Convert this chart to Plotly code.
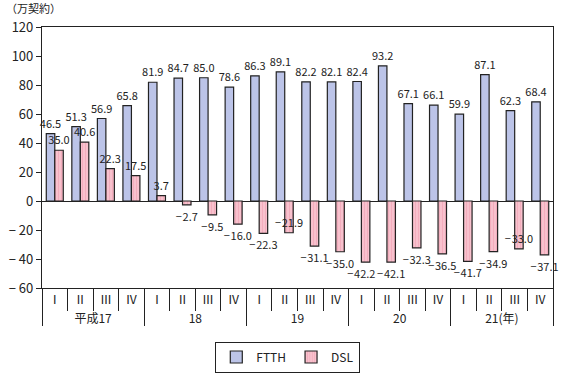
import plotly.graph_objects as go

years = ["平成17", "18", "19", "20", "21(年)"]
quarters = ["Ⅰ", "Ⅱ", "Ⅲ", "Ⅳ"]
ftth = [46.5, 51.3, 56.9, 65.8, 81.9, 84.7, 85.0, 78.6, 86.3, 89.1,
        82.2, 82.1, 82.4, 93.2, 67.1, 66.1, 59.9, 87.1, 62.3, 68.4]
dsl = [35.0, 40.6, 22.3, 17.5, 3.7, -2.7, -9.5, -16.0, -22.3, -21.9,
       -31.1, -35.0, -42.2, -42.1, -32.3, -36.5, -41.7, -34.9, -33.0, -37.1]
ytick_vals = [-60, -40, -20, 0, 20, 40, 60, 80, 100, 120]

outer = [y for y in years for _ in quarters]
inner = [q for _ in years for q in quarters]

# DSL labels that the reference staggers to avoid collisions
inside_idx = [9, 18]   # -21.9, -33.0 : just above the bar end
shift_idx = [12]       # -42.2 : pushed down / left


def fmt(v):
    return ("−\u200a" + f"{abs(v):.1f}") if v < 0 else f"{v:.1f}"


def fmt_tick(v):
    return ("− " + str(abs(v))) if v < 0 else str(v)


FONT = "Noto Sans CJK JP"
TXT = dict(size=11, color="#222222", family=FONT)

dsl_pos = []
for i in range(len(dsl)):
    if i in shift_idx:
        dsl_pos.append("none")
    elif i in inside_idx:
        dsl_pos.append("inside")
    else:
        dsl_pos.append("outside")

fig = go.Figure()
fig.add_trace(go.Bar(
    x=[outer, inner], y=ftth, name="FTTH",
    marker=dict(color="#bcc4e8", line=dict(color="#222222", width=1.2)),
    text=[fmt(v) for v in ftth], textposition="outside", textangle=0,
    textfont=TXT, cliponaxis=False,
))
fig.add_trace(go.Bar(
    x=[outer, inner], y=dsl, name="DSL",
    marker=dict(color="#f7b6c4", line=dict(color="#222222", width=1.2),
                pattern=dict(shape="|", fgcolor="#ee98ac", bgcolor="#f9c3cf", size=3, solidity=0.4)),
    text=[fmt(v) for v in dsl], textposition=dsl_pos, textangle=0,
    insidetextanchor="end", constraintext="none",
    textfont=TXT, insidetextfont=TXT, outsidetextfont=TXT, cliponaxis=False,
))
fig.add_trace(go.Scatter(
    x=[[outer[i] for i in shift_idx], [inner[i] for i in shift_idx]],
    y=[dsl[i] for i in shift_idx],
    text=[fmt(dsl[i]) for i in shift_idx],
    mode="markers+text", textposition="bottom center",
    marker=dict(size=10, opacity=0), textfont=TXT,
    showlegend=False, hoverinfo="skip", cliponaxis=False,
))

fig.update_layout(
    width=571, height=375,
    margin=dict(l=42, r=18, t=27, b=87, autoexpand=False),
    paper_bgcolor="white", plot_bgcolor="white",
    font=dict(family=FONT, size=12, color="#222222"),
    barmode="group", bargap=0.335, bargroupgap=0,
    showlegend=True,
    legend=dict(orientation="h", x=0.481, xanchor="center", y=-0.205, yanchor="top",
                bordercolor="#222222", borderwidth=1, bgcolor="white",
                font=dict(size=12, family=FONT), itemwidth=30),
    uniformtext=dict(minsize=11, mode="show"),
)
fig.update_xaxes(
    type="multicategory", showline=True, linecolor="#222222", linewidth=1.2,
    mirror=True, ticks="outside", ticklen=22, tickcolor="#222222",
    showdividers=True, dividercolor="#222222", dividerwidth=1.2,
    tickfont=dict(size=12, family=FONT), showgrid=False, automargin=False,
)
fig.update_yaxes(
    range=[-60, 120], tickvals=ytick_vals, ticktext=[fmt_tick(v) for v in ytick_vals],
    showline=True, linecolor="#222222", linewidth=1.2, mirror=True,
    ticks="outside", ticklen=5, tickcolor="#222222", showgrid=False,
    zeroline=True, zerolinecolor="#222222", zerolinewidth=1.2,
    tickfont=dict(size=13, family=FONT), automargin=False,
)
fig.add_annotation(text="（万契約）", xref="paper", yref="paper", x=-0.075, y=1.035,
                   xanchor="left", yanchor="bottom", showarrow=False,
                   font=dict(size=11, family=FONT))

fig.write_html("out.html", config={"displayModeBar": False},
               post_script="document.body.style.margin='0';document.body.style.overflow='hidden';")
